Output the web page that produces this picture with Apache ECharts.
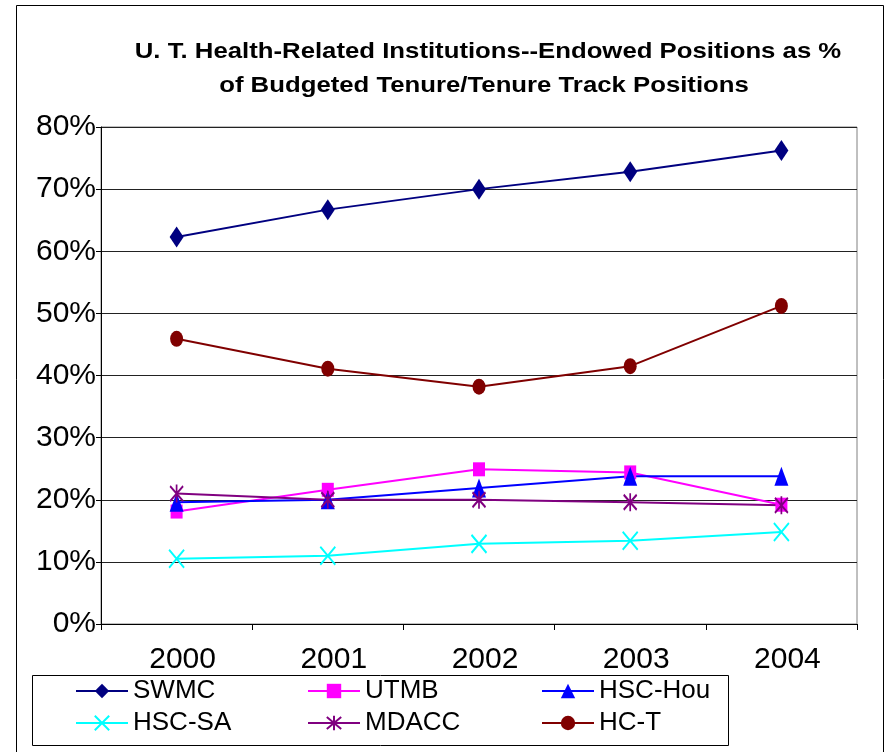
<!DOCTYPE html>
<html><head><meta charset="utf-8">
<script src="https://cdn.jsdelivr.net/npm/echarts@6/dist/echarts.min.js"></script>
<style>html,body{margin:0;padding:0;background:#fff}#c{width:892px;height:752px}</style>
</head><body><div id="c"></div>
<script>
const years = ['2000','2001','2002','2003','2004'];
const SWMC   = [62.3, 66.7, 70.0, 72.8, 76.2];
const UTMB   = [18.1, 21.6, 24.9, 24.4, 19.2];
const HSCHou = [19.6, 20.0, 21.9, 23.8, 23.8];
const HSCSA  = [10.5, 11.0, 12.9, 13.4, 14.8];
const MDACC  = [21.0, 20.0, 20.0, 19.6, 19.1];
const HCT    = [45.9, 41.1, 38.2, 41.5, 51.2];
const names  = ['SWMC','UTMB','HSC-Hou','HSC-SA','MDACC','HC-T'];
const yTicks = [0,10,20,30,40,50,60,70,80];
const titleLines = ['U. T. Health-Related Institutions--Endowed Positions as %', 'of Budgeted Tenure/Tenure Track Positions'];

const FONT = '"Liberation Sans", Arial, sans-serif';
const X_PATH = 'path://M0,0L10,12M10,0L0,12';
const AST_PATH = 'path://M0,1L10,11M10,1L0,11M5,0L5,12';

function mk(name, data, color, symbol, size, stroked) {
  return {
    name, type: 'line', data, symbol, symbolSize: size,
    lineStyle: { color, width: 2 },
    itemStyle: stroked ? { color: 'rgba(0,0,0,0)', borderColor: color, borderWidth: 2 } : { color },
    emphasis: { disabled: true }, animation: false
  };
}
const series = [
  mk('SWMC', SWMC, '#000080', 'diamond', [14, 21]),
  mk('UTMB', UTMB, '#FF00FF', 'rect', [12, 14]),
  mk('HSC-Hou', HSCHou, '#0000FF', 'triangle', [14, 19]),
  mk('HSC-SA', HSCSA, '#00FFFF', X_PATH, [15, 18], true),
  mk('MDACC', MDACC, '#800080', AST_PATH, [13, 18], true),
  mk('HC-T', HCT, '#800000', 'circle', [13, 16])
];
const legendPos = [[75,678],[307,678],[541,678],[75,710],[307,710],[541,710]];
const legends = names.map((n,i)=>({
  data:[n], left: legendPos[i][0], top: legendPos[i][1], padding: 0,
  itemWidth: 52, itemHeight: 18,
  textStyle: { fontSize: 26, color: '#000', fontFamily: FONT }
}));

const chart = echarts.init(document.getElementById('c'), null, {renderer:'canvas'});
chart.setOption({
  backgroundColor: '#fff',
  animation: false,
  legend: legends,
  grid: { left: 101, right: 35, top: 127, bottom: 128, show: true, borderColor: '#808080', borderWidth: 1 },
  xAxis: {
    type: 'category', data: years, boundaryGap: true,
    axisLine: { lineStyle: { color: '#000', width: 1 } },
    axisTick: { show: true, alignWithLabel: false, length: 6, lineStyle: { color: '#000' } },
    axisLabel: { fontSize: 30, color: '#000', fontFamily: FONT, margin: 21, padding: [0,0,0,12] },
    splitLine: { show: false }
  },
  yAxis: {
    type: 'value', min: yTicks[0], max: yTicks[yTicks.length-1], interval: 10,
    axisLine: { show: true, lineStyle: { color: '#000' } },
    axisTick: { show: true, length: 5, lineStyle: { color: '#000' } },
    axisLabel: { fontSize: 30, color: '#000', fontFamily: FONT, margin: 5, formatter: '{value}%' },
    splitLine: { show: true, lineStyle: { color: '#222', width: 1 } }
  },
  graphic: [
    { type: 'rect', shape: { x: 16.5, y: 5.5, width: 867, height: 760 }, style: { fill: 'none', stroke: '#000', lineWidth: 1 }, silent: true, z: -1 },
    { type: 'rect', shape: { x: 32.5, y: 675.5, width: 696, height: 70 }, style: { fill: 'none', stroke: '#000', lineWidth: 1 }, silent: true },
    { type: 'text', x: 488, y: 52, scaleX: 1.17, silent: true,
      style: { text: titleLines[0], font: 'bold 22px ' + FONT, fill: '#000', textAlign: 'center', textVerticalAlign: 'middle' } },
    { type: 'text', x: 484, y: 86, scaleX: 1.17, silent: true,
      style: { text: titleLines[1], font: 'bold 22px ' + FONT, fill: '#000', textAlign: 'center', textVerticalAlign: 'middle' } }
  ],
  series
});
</script></body></html>
